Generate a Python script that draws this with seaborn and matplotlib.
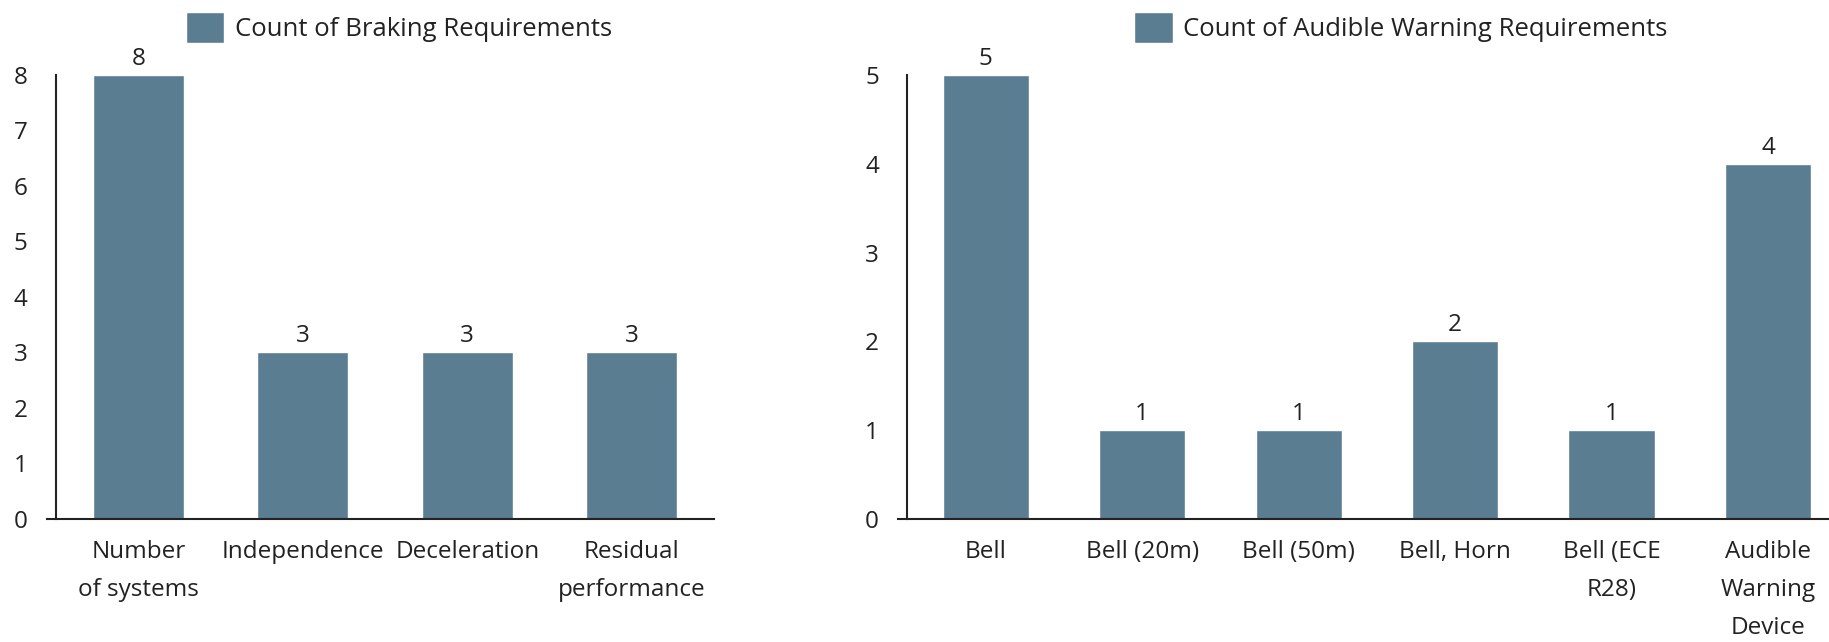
import seaborn as sns
import pandas as pd
import matplotlib.pyplot as plt

# values
braking_labels = ["Number\nof systems", "Independence", "Deceleration", "Residual\nperformance"]
braking_counts = [8, 3, 3, 3]

audible_labels = ["Bell", "Bell (20m)", "Bell (50m)", "Bell, Horn", "Bell (ECE\nR28)",
                  "Audible\nWarning\nDevice"]
audible_counts = [5, 1, 1, 2, 1, 4]

bar_color = "#5b7d91"
text_color = "#222222"
font_size = 17.5

sns.set_style("white")
plt.rcParams['font.family'] = ['Open Sans', 'DejaVu Sans']
plt.rcParams['text.color'] = text_color
plt.rcParams['axes.labelcolor'] = text_color
plt.rcParams['xtick.color'] = text_color
plt.rcParams['ytick.color'] = text_color


def draw_panel(ax, labels, counts, width, legend_name, legend_x, xlim):
    df = pd.DataFrame({"category": labels, "count": counts})
    sns.barplot(data=df, x="category", y="count", color=bar_color, width=width,
                ax=ax, label=legend_name, saturation=1)
    ax.bar_label(ax.containers[0], padding=3, fontsize=font_size, color=text_color)
    ax.set_ylim(0, max(counts))
    ax.set_xlim(*xlim)
    ax.set_yticks(range(0, max(counts) + 1))
    ax.set_xlabel("")
    ax.set_ylabel("")
    sns.despine(ax=ax)
    # y axis sits half a category left of the first bar, the baseline runs on past it
    ax.spines["left"].set_position(("data", -0.5))
    for side in ["left", "bottom"]:
        ax.spines[side].set_color("#222222")
        ax.spines[side].set_linewidth(1.5)
    ax.tick_params(axis="y", length=6.5, width=1.3, labelsize=font_size, pad=14, direction="out")
    ax.tick_params(axis="x", length=0, labelsize=font_size, pad=15)
    for t in ax.get_xticklabels():
        t.set_linespacing(1.78)
    ax.legend(loc="center", bbox_to_anchor=(legend_x, 0.957), bbox_transform=fig.transFigure,
              frameon=False, fontsize=18.5, handlelength=1.5, handleheight=1.5,
              handletextpad=0.4)


fig = plt.figure(figsize=(18.29, 6.42), dpi=100)
ax1 = fig.add_axes([47 / 1829, 0.1916, (714 - 47) / 1829, 0.6916])
ax2 = fig.add_axes([898 / 1829, 0.1916, (1829 - 898) / 1829, 0.6916])

draw_panel(ax1, braking_labels, braking_counts, 0.553,
           "Count of Braking Requirements", 0.218, (-0.555, 3.5))
draw_panel(ax2, audible_labels, audible_counts, 0.55,
           "Count of Audible Warning Requirements", 0.766, (-0.56, 5.39))

fig.savefig("out.png", dpi=100)
